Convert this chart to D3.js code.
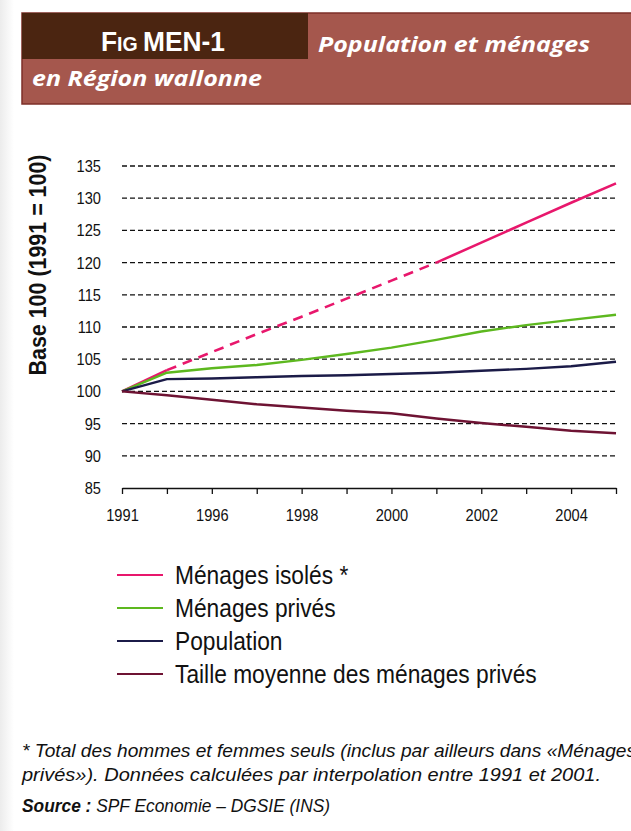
<!DOCTYPE html>
<html>
<head>
<meta charset="utf-8">
<script src="https://cdn.jsdelivr.net/npm/d3@7"></script>
<style>
  html, body { margin: 0; padding: 0; background: #fff; overflow: hidden; }
  svg { display: block; }
</style>
</head>
<body>
<div id="chart"></div>
<script>
// categories on the x axis (Excel-like category axis)
const years = ["1991", "1995", "1996", "1997", "1998", "1999", "2000", "2001", "2002", "2003", "2004", "2005"];
const tickLabels = ["1991", "1996", "1998", "2000", "2002", "2004"];
const yTicks = [85, 90, 95, 100, 105, 110, 115, 120, 125, 130, 135];

// series values (base 100 in 1991)
const menagesIsoles = [100, 103.3, 106.1, 108.9, 111.6, 114.4, 117.2, 120.0, 123.1, 126.2, 129.3, 132.3];
const menagesPrives = [100, 102.9, 103.6, 104.1, 104.9, 105.8, 106.8, 108.0, 109.3, 110.3, 111.1, 111.9];
const population = [100, 101.9, 102.0, 102.2, 102.4, 102.5, 102.7, 102.9, 103.2, 103.5, 103.9, 104.6];
const tailleMoyenne = [100, 99.4, 98.7, 98.0, 97.5, 97.0, 96.6, 95.8, 95.1, 94.5, 93.9, 93.5];
// last year of the interpolated (dashed) part of "Ménages isolés"
const interpolationEnd = "2001";

const seriesNames = ["Ménages isolés *", "Ménages privés", "Population", "Taille moyenne des ménages privés"];
const seriesColors = ["#e8176c", "#5db81f", "#1b1b48", "#6e1333"];

const width = 631;
const height = 831;
const font = "'Liberation Sans', Arial, sans-serif";

// squeeze text horizontally to mimic the narrow font of the original
function condense(sel, f) {
    sel.each(function() {
        const len = this.getComputedTextLength();
        d3.select(this)
            .attr("textLength", len * f)
            .attr("lengthAdjust", "spacingAndGlyphs");
    });
}

const svg = d3.select("#chart").append("svg")
    .attr("width", width)
    .attr("height", height);

// faint grey strip on the left edge
const grad = svg.append("defs").append("linearGradient").attr("id", "edge");
grad.append("stop").attr("offset", "0%").attr("stop-color", "#ececec");
grad.append("stop").attr("offset", "100%").attr("stop-color", "#ffffff");
svg.append("rect").attr("x", 0).attr("y", 0).attr("width", 14).attr("height", height).attr("fill", "url(#edge)");

// ---- header ----
svg.append("rect")
    .attr("x", 22).attr("y", 13)
    .attr("width", width).attr("height", 91)
    .attr("fill", "#a5574d")
    .attr("stroke", "#7d2f28").attr("stroke-width", 1.5);
svg.append("rect")
    .attr("x", 22).attr("y", 13)
    .attr("width", 286).attr("height", 46)
    .attr("fill", "#4b2511");

const fig = svg.append("text")
    .attr("x", 163).attr("y", 51)
    .attr("text-anchor", "middle")
    .attr("fill", "#fff")
    .attr("font-family", font)
    .attr("font-weight", "bold")
    .attr("font-size", 27)
    .attr("textLength", 124).attr("lengthAdjust", "spacingAndGlyphs");
fig.append("tspan").text("F");
fig.append("tspan").attr("font-size", 20).text("IG ");
fig.append("tspan").text("MEN-1");

svg.append("text")
    .attr("x", 318).attr("y", 52)
    .attr("fill", "#fff")
    .attr("font-family", "'Open Sans', sans-serif")
    .attr("font-weight", "bold")
    .attr("font-style", "italic")
    .attr("font-size", 22)
    .attr("textLength", 272).attr("lengthAdjust", "spacingAndGlyphs")
    .text("Population et ménages");

svg.append("text")
    .attr("x", 32).attr("y", 86)
    .attr("fill", "#fff")
    .attr("font-family", "'Open Sans', sans-serif")
    .attr("font-weight", "bold")
    .attr("font-style", "italic")
    .attr("font-size", 22)
    .attr("textLength", 230).attr("lengthAdjust", "spacingAndGlyphs")
    .text("en Région wallonne");

// ---- scales ----
const x = d3.scalePoint()
    .domain(years)
    .range([122, 616]);

const y = d3.scaleLinear()
    .domain([85, 135])
    .range([488, 166]);

// dashed grid lines
svg.append("g")
    .selectAll("line")
    .data(yTicks.filter(d => d > 85))
    .join("line")
    .attr("x1", x(years[0]))
    .attr("x2", x(years[years.length - 1]))
    .attr("y1", d => y(d))
    .attr("y2", d => y(d))
    .attr("stroke", "#111")
    .attr("stroke-width", 1.3)
    .attr("stroke-dasharray", "5,3");

// y axis labels (no axis line)
svg.append("g")
    .attr("transform", `translate(${x(years[0]) - 21},0)`)
    .call(d3.axisLeft(y).tickValues(yTicks).tickSize(0).tickPadding(0))
    .call(g => g.select(".domain").remove())
    .selectAll("text")
    .attr("font-family", font)
    .attr("font-size", 17)
    .attr("fill", "#111")
    .call(condense, 0.86);

// x axis
svg.append("g")
    .attr("transform", `translate(0,${y(85)})`)
    .call(d3.axisBottom(x)
        .tickSizeInner(6).tickSizeOuter(0).tickPadding(15)
        .tickFormat(d => tickLabels.includes(d) ? d : ""))
    .call(g => g.select(".domain").attr("stroke", "#111").attr("stroke-width", 1.3))
    .call(g => g.selectAll(".tick line").attr("stroke", "#111").attr("stroke-width", 1.3))
    .selectAll("text")
    .attr("font-family", font)
    .attr("font-size", 17)
    .attr("fill", "#111")
    .call(condense, 0.86);

// y axis title
svg.append("text")
    .attr("transform", `translate(46,265) rotate(-90)`)
    .attr("text-anchor", "middle")
    .attr("font-family", font)
    .attr("font-weight", "bold")
    .attr("font-size", 23)
    .attr("fill", "#111")
    .attr("textLength", 221).attr("lengthAdjust", "spacingAndGlyphs")
    .text("Base 100 (1991 = 100)");

// ---- lines ----
const line = d3.line()
    .x(d => x(d.year))
    .y(d => y(d.value));

const toPoints = vals => vals.map((v, i) => ({year: years[i], value: v}));

const endIdx = years.indexOf(interpolationEnd);
const iso = toPoints(menagesIsoles);

// Ménages isolés: solid start, dashed interpolation, solid end
svg.append("path")
    .datum(iso.slice(0, 2))
    .attr("d", line)
    .attr("fill", "none").attr("stroke", seriesColors[0]).attr("stroke-width", 2.6);
svg.append("path")
    .datum(iso.slice(1, endIdx + 1))
    .attr("d", line)
    .attr("fill", "none").attr("stroke", seriesColors[0]).attr("stroke-width", 2.6)
    .attr("stroke-dasharray", "10,7");
svg.append("path")
    .datum(iso.slice(endIdx))
    .attr("d", line)
    .attr("fill", "none").attr("stroke", seriesColors[0]).attr("stroke-width", 2.6);

[menagesPrives, population, tailleMoyenne].forEach((vals, i) => {
    svg.append("path")
        .datum(toPoints(vals))
        .attr("d", line)
        .attr("fill", "none")
        .attr("stroke", seriesColors[i + 1])
        .attr("stroke-width", 2.4)
        .attr("stroke-linejoin", "round");
});

// ---- legend ----
const legend = svg.append("g")
    .selectAll("g")
    .data(seriesNames)
    .join("g")
    .attr("transform", (d, i) => `translate(117,${575 + i * 33})`);

legend.append("line")
    .attr("x1", 0).attr("x2", 46)
    .attr("stroke", (d, i) => seriesColors[i])
    .attr("stroke-width", 2.2);

legend.append("text")
    .attr("x", 58)
    .attr("dy", "0.35em")
    .attr("font-family", font)
    .attr("font-size", 25)
    .attr("fill", "#111")
    .text(d => d)
    .call(condense, 0.91);

// ---- footnote ----
const note = svg.append("g")
    .attr("font-family", font)
    .attr("font-style", "italic")
    .attr("font-size", 18)
    .attr("fill", "#111");

note.append("text")
    .attr("x", 22).attr("y", 757)
    .attr("textLength", 614).attr("lengthAdjust", "spacingAndGlyphs")
    .text("* Total des hommes et femmes seuls (inclus par ailleurs dans «Ménages");
note.append("text")
    .attr("x", 22).attr("y", 781)
    .attr("textLength", 579).attr("lengthAdjust", "spacingAndGlyphs")
    .text("privés»). Données calculées par interpolation entre 1991 et 2001.");
const src = note.append("text")
    .attr("x", 22).attr("y", 812)
    .attr("textLength", 308).attr("lengthAdjust", "spacingAndGlyphs");
src.append("tspan").attr("font-weight", "bold").text("Source : ");
src.append("tspan").text("SPF Economie – DGSIE (INS)");
</script>
</body>
</html>
